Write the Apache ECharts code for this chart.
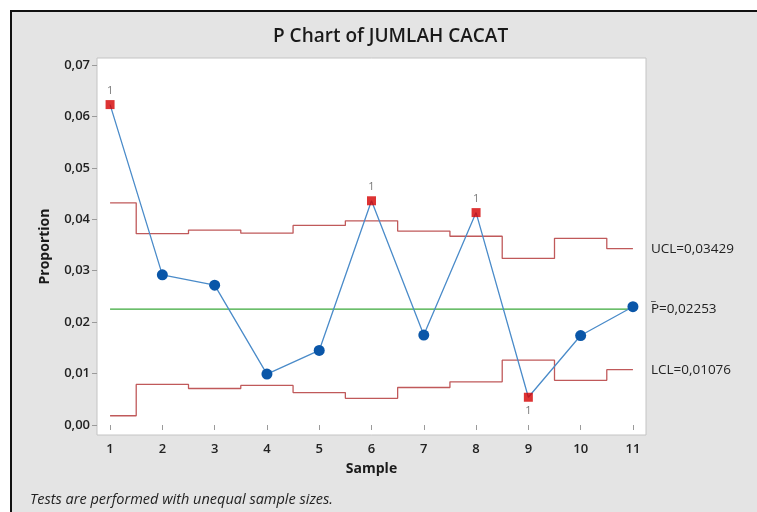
<!DOCTYPE html>
<html>
<head>
<meta charset="utf-8">
<script src="https://cdn.jsdelivr.net/npm/echarts@6/dist/echarts.min.js"></script>
<style>
  html, body { margin: 0; padding: 0; background: #fff; overflow: hidden; }
  #chart { width: 757px; height: 512px; }
</style>
</head>
<body>
<div id="chart"></div>
<script>
// sample numbers and proportion defective
var samples = [1, 2, 3, 4, 5, 6, 7, 8, 9, 10, 11];
var proportion = [0.0623, 0.0292, 0.0272, 0.0099, 0.0145, 0.0436, 0.0175, 0.0413, 0.0054, 0.0174, 0.0230];
// control limits (unequal sample sizes -> stepped)
var ucl = [0.0432, 0.0372, 0.0379, 0.0373, 0.0388, 0.0397, 0.0377, 0.0367, 0.0324, 0.0363, 0.03429];
var lcl = [0.0018, 0.0079, 0.0071, 0.0077, 0.0063, 0.0052, 0.0073, 0.0084, 0.0126, 0.0087, 0.01076];
var pBar = 0.02253;
// samples failing test 1
var failed = [1, 6, 8, 9];
var yTicks = [0, 0.01, 0.02, 0.03, 0.04, 0.05, 0.06, 0.07];

var font = '"Open Sans", "Noto Sans", sans-serif';
function comma(v, d) { return v.toFixed(d).replace('.', ','); }

var myChart = echarts.init(document.getElementById('chart'));

var points = samples.map(function (s, i) {
    var bad = failed.indexOf(s) >= 0;
    return { value: [s, proportion[i]], symbol: bad ? 'none' : 'circle' };
});
var uclData = samples.map(function (s, i) { return [s, ucl[i]]; });
var lclData = samples.map(function (s, i) { return [s, lcl[i]]; });
var flagged = samples.map(function (s, i) {
    if (failed.indexOf(s) < 0) return null;
    var below = proportion[i] < lcl[i];
    return {
        value: [s, proportion[i]],
        label: { position: below ? 'bottom' : 'top' }
    };
}).filter(function (d) { return d; });

var options = {
    backgroundColor: '#fff',
    animation: false,
    textStyle: { fontFamily: font },
    title: {
        text: 'P Chart of JUMLAH CACAT',
        left: 268,
        top: 22,
        textStyle: { fontFamily: font, fontSize: 19, fontWeight: 600, color: '#1a1a1a' }
    },
    grid: {
        left: 97, top: 58, right: 111, bottom: 77,
        show: true, backgroundColor: '#fff', borderColor: '#c4c4c4', borderWidth: 1
    },
    xAxis: {
        type: 'value',
        min: 0.75, max: 11.25,
        name: 'Sample',
        nameLocation: 'middle',
        nameGap: 27,
        nameTextStyle: { fontFamily: font, fontSize: 14, fontWeight: 'bold', color: '#1a1a1a' },
        axisLine: { show: false },
        splitLine: { show: false },
        axisTick: { show: true, length: 5, lineStyle: { color: '#9a9a9a' }, customValues: samples },
        axisLabel: {
            customValues: samples, margin: 8,
            fontFamily: font, fontSize: 13, fontWeight: 600, color: '#222'
        }
    },
    yAxis: {
        type: 'value',
        min: -0.00194, max: 0.07136,
        name: 'Proportion',
        nameLocation: 'middle',
        nameGap: 45,
        nameTextStyle: { fontFamily: font, fontSize: 14, fontWeight: 'bold', color: '#1a1a1a' },
        axisLine: { show: false },
        splitLine: { show: false },
        axisTick: { show: true, length: 5, lineStyle: { color: '#9a9a9a' }, customValues: yTicks },
        axisLabel: {
            customValues: yTicks, margin: 7,
            fontFamily: font, fontSize: 13, fontWeight: 600, color: '#222',
            formatter: function (v) { return comma(v, 2); }
        }
    },
    series: [
        {
            name: 'UCL', type: 'line', step: 'middle', data: uclData,
            symbol: 'none', lineStyle: { color: '#c0595a', width: 1.3 },
            endLabel: {
                show: true, distance: 18, fontFamily: font, fontSize: 13.5, color: '#222',
                formatter: 'UCL=' + comma(ucl[ucl.length - 1], 5)
            },
            z: 1
        },
        {
            name: 'LCL', type: 'line', step: 'middle', data: lclData,
            symbol: 'none', lineStyle: { color: '#c0595a', width: 1.3 },
            endLabel: {
                show: true, distance: 18, fontFamily: font, fontSize: 13.5, color: '#222',
                formatter: 'LCL=' + comma(lcl[lcl.length - 1], 5)
            },
            z: 1
        },
        {
            name: 'P', type: 'line',
            data: [[samples[0], pBar], [samples[samples.length - 1], pBar]],
            symbol: 'none', lineStyle: { color: '#3aa83a', width: 1.3 },
            endLabel: {
                show: true, distance: 18, offset: [0, -4],
                formatter: '{bar|_}\n{t|P=' + comma(pBar, 5) + '}',
                rich: {
                    bar: { fontFamily: font, fontSize: 11, color: '#222', lineHeight: 9 },
                    t: { fontFamily: font, fontSize: 13.5, color: '#222', lineHeight: 16 }
                }
            },
            z: 1
        },
        {
            name: 'Proportion', type: 'line', data: points,
            symbol: 'circle', symbolSize: 11,
            itemStyle: { color: '#0a56a8' },
            lineStyle: { color: '#4a8bc9', width: 1.3 },
            z: 3
        },
        {
            name: 'Failed', type: 'scatter', data: flagged,
            symbol: 'rect', symbolSize: 9,
            itemStyle: { color: '#d40000' },
            label: {
                show: true, formatter: '1', distance: 4,
                fontFamily: font, fontSize: 11, color: '#555'
            },
            z: 4
        }
    ],
    graphic: [
        {
            // gray panel with black frame (cropped at right and bottom)
            type: 'rect', z: -10, silent: true,
            shape: { x: 11, y: 11, width: 800, height: 600 },
            style: { fill: '#e4e4e4', stroke: '#111', lineWidth: 2 }
        },
        {
            type: 'text', left: 30, top: 492,
            style: {
                text: 'Tests are performed with unequal sample sizes.',
                fontFamily: font, fontSize: 14.5, fontStyle: 'italic', fill: '#222'
            }
        }
    ]
};

myChart.setOption(options);
window.addEventListener('resize', myChart.resize);
</script>
</body>
</html>
